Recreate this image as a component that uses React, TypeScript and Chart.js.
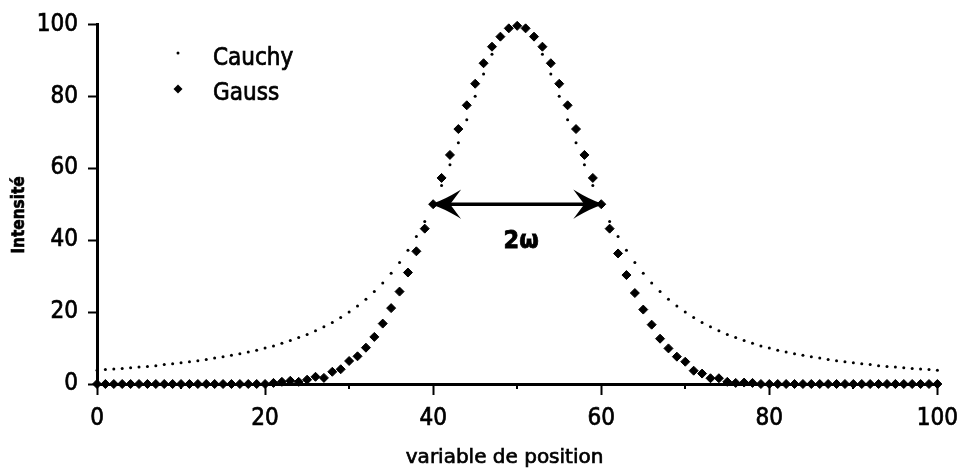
import React, { useEffect, useRef } from 'react';
import { Chart, registerables } from 'chart.js';

Chart.register(...registerables);

// ---- data ----
const xPositions = [
  0, 1, 2, 3, 4, 5, 6, 7, 8, 9,
  10, 11, 12, 13, 14, 15, 16, 17, 18, 19,
  20, 21, 22, 23, 24, 25, 26, 27, 28, 29,
  30, 31, 32, 33, 34, 35, 36, 37, 38, 39,
  40, 41, 42, 43, 44, 45, 46, 47, 48, 49,
  50, 51, 52, 53, 54, 55, 56, 57, 58, 59,
  60, 61, 62, 63, 64, 65, 66, 67, 68, 69,
  70, 71, 72, 73, 74, 75, 76, 77, 78, 79,
  80, 81, 82, 83, 84, 85, 86, 87, 88, 89,
  90, 91, 92, 93, 94, 95, 96, 97, 98, 99,
  100,
];

const cauchyValues = [
  3.8, 4.0, 4.2, 4.3, 4.5, 4.7, 4.9, 5.1, 5.4, 5.6,
  5.9, 6.2, 6.5, 6.8, 7.2, 7.6, 8.0, 8.4, 8.9, 9.4,
  10.0, 10.6, 11.3, 12.1, 12.9, 13.8, 14.8, 15.9, 17.1, 18.5,
  20.0, 21.7, 23.6, 25.7, 28.1, 30.8, 33.8, 37.2, 41.0, 45.2,
  50.0, 55.2, 61.0, 67.1, 73.5, 80.0, 86.2, 91.7, 96.2, 99.0,
  100.0, 99.0, 96.2, 91.7, 86.2, 80.0, 73.5, 67.1, 61.0, 55.2,
  50.0, 45.2, 41.0, 37.2, 33.8, 30.8, 28.1, 25.7, 23.6, 21.7,
  20.0, 18.5, 17.1, 15.9, 14.8, 13.8, 12.9, 12.1, 11.3, 10.6,
  10.0, 9.4, 8.9, 8.4, 8.0, 7.6, 7.2, 6.8, 6.5, 6.2,
  5.9, 5.6, 5.4, 5.1, 4.9, 4.7, 4.5, 4.3, 4.2, 4.0,
  3.8,
];

const gaussValues = [
  0, 0, 0, 0, 0, 0, 0, 0, 0, 0,
  0, 0, 0, 0, 0, 0, 0, 0, 0, 0,
  0, 0.3, 0.6, 0.9, 0.6, 1.2, 2.0, 1.7, 3.4, 4.1,
  6.4, 7.7, 10.1, 13.1, 16.8, 21.1, 25.7, 31.0, 36.9, 43.2,
  50.0, 57.3, 63.7, 70.9, 77.5, 83.5, 89.2, 93.8, 96.6, 98.9,
  99.6, 98.9, 96.6, 93.8, 89.2, 83.5, 77.5, 70.9, 63.7, 57.3,
  50.0, 43.2, 36.3, 30.3, 25.3, 20.7, 16.5, 12.6, 9.9, 7.6,
  6.2, 3.7, 2.9, 1.6, 1.6, 0.6, 0.3, 0.4, 0.3, 0,
  0, 0, 0, 0, 0, 0, 0, 0, 0, 0,
  0, 0, 0, 0, 0, 0, 0, 0, 0, 0,
  0,
];

const xTickValues = [0, 20, 40, 60, 80, 100];
const xMinorTickValues = [10, 30, 50, 70, 90];
const yTickValues = [0, 20, 40, 60, 80, 100];
const seriesNames = ['Cauchy', 'Gauss'];
const arrowFrom = 40;
const arrowTo = 60;
const arrowLevel = 50;
const arrowLabel = '2ω';
const xAxisTitle = 'variable de position';
const yAxisTitle = 'Intensité';

const FONT = '"DejaVu Sans Condensed", "DejaVu Sans", sans-serif';

const heavyText = (ctx: any, text: string, x: number, y: number, w = 0.7) => {
  ctx.lineWidth = w;
  ctx.strokeText(text, x, y);
  ctx.fillText(text, x, y);
};

const overlayPlugin = {
  id: 'overlay',
  afterDatasetsDraw(chart: any) {
    const { ctx, chartArea } = chart;
    const xs = chart.scales.x;
    const ys = chart.scales.y;
    ctx.save();
    ctx.fillStyle = '#000';
    ctx.strokeStyle = '#000';

    // minor x ticks
    ctx.lineWidth = 2;
    for (const v of xMinorTickValues) {
      const px = Math.round(xs.getPixelForValue(v));
      ctx.beginPath();
      ctx.moveTo(px, chartArea.bottom);
      ctx.lineTo(px, chartArea.bottom + 5);
      ctx.stroke();
    }

    // width arrow
    const x0 = xs.getPixelForValue(arrowFrom);
    const x1 = xs.getPixelForValue(arrowTo);
    const yy = ys.getPixelForValue(arrowLevel);
    ctx.lineWidth = 3.5;
    ctx.beginPath();
    ctx.moveTo(x0 + 12, yy);
    ctx.lineTo(x1 - 12, yy);
    ctx.stroke();
    const head = (tip: number, dir: number) => {
      ctx.beginPath();
      ctx.moveTo(tip, yy);
      ctx.quadraticCurveTo(tip + dir * 12, yy - 4, tip + dir * 25, yy - 12);
      ctx.lineTo(tip + dir * 16, yy);
      ctx.lineTo(tip + dir * 25, yy + 12);
      ctx.quadraticCurveTo(tip + dir * 12, yy + 4, tip, yy);
      ctx.closePath();
      ctx.fill();
      ctx.lineWidth = 1.5;
      ctx.stroke();
    };
    head(x0, 1);
    head(x1, -1);

    ctx.font = `bold 25px ${FONT}`;
    ctx.textAlign = 'center';
    ctx.textBaseline = 'alphabetic';
    heavyText(ctx, arrowLabel, (x0 + x1) / 2 + 4, yy + 44, 0.8);

    // legend
    const lx = chartArea.left + 81;
    const tx = chartArea.left + 116;
    ctx.beginPath();
    ctx.arc(lx, 53, 1.5, 0, Math.PI * 2);
    ctx.fill();
    ctx.beginPath();
    ctx.moveTo(lx - 4.5, 89);
    ctx.lineTo(lx, 84.5);
    ctx.lineTo(lx + 4.5, 89);
    ctx.lineTo(lx, 93.5);
    ctx.closePath();
    ctx.fill();
    ctx.font = `24px ${FONT}`;
    ctx.textAlign = 'left';
    heavyText(ctx, seriesNames[0], tx, 65);
    heavyText(ctx, seriesNames[1], tx, 100);

    // axis titles
    ctx.font = '20px "DejaVu Sans", sans-serif';
    ctx.textAlign = 'center';
    heavyText(ctx, xAxisTitle, xs.getPixelForValue(48.5), 463);

    ctx.translate(20, 215);
    ctx.rotate(-Math.PI / 2);
    ctx.font = `bold 17px ${FONT}`;
    ctx.textBaseline = 'middle';
    heavyText(ctx, yAxisTitle, 0, 0, 0.6);
    ctx.restore();
  },
};

export default function App() {
  const ref = useRef<HTMLCanvasElement | null>(null);

  useEffect(() => {
    if (!ref.current) return;
    const chart = new Chart(ref.current, {
      type: 'scatter',
      data: {
        datasets: [
          {
            label: seriesNames[0],
            data: xPositions.map((x, i) => ({ x, y: cauchyValues[i] })),
            pointStyle: 'circle',
            pointRadius: 1.5,
            pointBackgroundColor: '#000',
            pointBorderWidth: 0,
            showLine: false,
            clip: false,
          },
          {
            label: seriesNames[1],
            data: xPositions.map((x, i) => ({ x, y: gaussValues[i] })),
            pointStyle: 'rectRot',
            pointRadius: 4.5,
            pointBackgroundColor: '#000',
            pointBorderColor: '#000',
            pointBorderWidth: 1,
            showLine: false,
            clip: false,
          },
        ],
      },
      options: {
        responsive: false,
        animation: false,
        events: [],
        layout: { padding: { top: 22, right: 24, left: 0, bottom: 0 } },
        plugins: {
          legend: { display: false },
          tooltip: { enabled: false },
        },
        scales: {
          x: {
            type: 'linear',
            position: 'bottom',
            min: 0,
            max: 100,
            afterBuildTicks: (s: any) => {
              s.ticks = xTickValues.map((v) => ({ value: v }));
            },
            afterFit: (s: any) => {
              s.height = 85;
            },
            border: { display: true, color: '#000', width: 3 },
            grid: {
              display: true,
              drawOnChartArea: false,
              drawTicks: true,
              tickLength: 11,
              tickWidth: 2,
              tickColor: '#000',
              color: '#000',
            },
            ticks: {
              color: '#000',
              font: { family: FONT, size: 24 },
              padding: 9,
              maxRotation: 0,
              autoSkip: false,
              textStrokeColor: '#000',
              textStrokeWidth: 0.7,
            },
          },
          y: {
            type: 'linear',
            position: 'left',
            min: 0,
            max: 100,
            afterBuildTicks: (s: any) => {
              s.ticks = yTickValues.map((v) => ({ value: v }));
            },
            afterFit: (s: any) => {
              s.width = 97;
            },
            border: { display: true, color: '#000', width: 3 },
            grid: {
              display: true,
              drawOnChartArea: false,
              drawTicks: true,
              tickLength: 9,
              tickWidth: 2,
              tickColor: '#000',
              color: '#000',
            },
            ticks: {
              color: '#000',
              font: { family: FONT, size: 24 },
              padding: 10,
              autoSkip: false,
              textStrokeColor: '#000',
              textStrokeWidth: 0.7,
            },
          },
        },
      },
      plugins: [overlayPlugin],
    } as any);
    return () => chart.destroy();
  }, []);

  return (
    <div style={{ position: 'absolute', left: 0, top: 0, width: 967, height: 469, background: '#fff' }}>
      <canvas ref={ref} width={967} height={469} style={{ display: 'block' }} />
    </div>
  );
}
